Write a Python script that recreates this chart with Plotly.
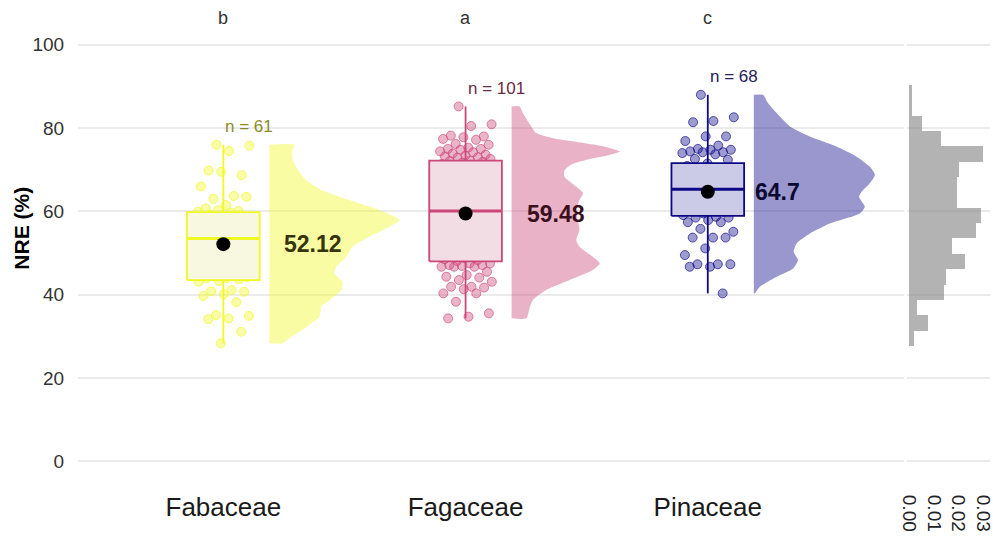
import numpy as np
import plotly.graph_objects as go

# ---------------- data ----------------
families = ["Fabaceae", "Fagaceae", "Pinaceae"]
group_letters = ["b", "a", "c"]

fabaceae_nre = [76.0, 75.8, 74.5, 69.8, 68.7, 69.5, 66.0, 63.7, 63.0, 63.5, 61.5, 60.7, 60.1, 60.3,
                59.9, 59.7, 59.2, 58.9, 58.6, 58.3, 58.0, 57.7, 57.4, 57.0, 56.5, 56.0, 55.5, 54.9, 54.3, 53.8, 53.5,
                52.2, 51.4, 50.6, 49.8, 49.0, 48.2, 47.5, 46.8, 46.1, 45.5, 44.9, 44.5, 44.2, 44.0,
                43.9, 43.7, 43.3, 43.1, 41.1, 40.8, 40.7, 40.1, 39.7, 38.2, 35.1, 34.9, 34.3, 34.1, 31.1, 28.3]

fagaceae_nre = [85.2, 80.9, 80.5, 78.2, 78.0, 77.8, 77.4, 77.2, 76.2, 76.0, 75.3, 75.0, 75.0, 74.8, 74.4,
                74.2, 73.9, 73.6, 73.4, 73.2, 73.0, 72.9, 72.6,
                72.2, 72.1, 71.9, 71.7, 71.4, 71.1, 70.7, 70.3, 69.8, 69.3, 68.7, 68.1, 67.5, 66.9, 66.3, 65.7,
                65.1, 64.6, 64.1, 63.6, 63.1, 62.6, 62.1, 61.6, 61.1, 60.6, 60.1, 59.5, 58.8, 58.2, 57.6, 57.0,
                56.5, 56.0, 55.6, 55.2, 54.8, 54.4, 54.0, 53.6, 53.2, 52.7, 52.3, 51.8, 51.3, 50.8, 50.3, 49.9,
                49.5, 49.1, 48.8, 48.5, 48.3, 48.1,
                47.5, 47.5, 47.1, 47.1, 46.9, 46.7, 46.7, 46.7, 45.5, 44.7, 44.3, 44.1, 43.5, 43.1, 41.9, 41.9,
                41.7, 41.3, 40.3, 40.3, 38.3, 35.5, 34.7, 34.3]

pinaceae_nre = [88.0, 82.6, 81.7, 81.4, 78.0, 78.0, 76.9, 75.8, 75.0, 74.8, 74.8, 74.4, 74.2, 74.2, 74.0, 73.7,
                72.6, 72.4,
                71.5, 70.9, 70.4, 69.9, 69.4, 69.2, 69.0, 68.8, 68.5, 68.1, 67.7, 67.3, 66.9, 66.5, 66.0, 65.5,
                65.1, 64.5, 63.9, 63.3, 62.7, 62.2, 61.8, 61.5, 61.2, 60.9, 60.6, 60.3, 59.9, 59.5, 59.1,
                58.7, 58.5, 58.5, 57.9, 57.4, 57.4, 55.8, 55.1, 53.7, 53.7, 53.7, 51.1, 49.5, 47.3, 47.3, 47.3,
                46.7, 46.7, 40.3]

mean_nre = [52.12, 59.48, 64.7]
q1_nre = [43.5, 48.0, 58.9]
median_nre = [53.5, 60.1, 65.3]
q3_nre = [59.8, 72.2, 71.6]

# half-violin density profiles (NRE level, density)
fab_dens_y = [28.3, 29.5, 31.5, 34.7, 37.1, 38.7, 41.1, 43.1, 45.1, 46.7, 49.1, 51.5, 53.9, 56.3, 57.9,
              60.3, 62.7, 65.1, 67.5, 70.7, 72.8, 74.8, 76.0]
fab_dens = [0.0045, 0.0069, 0.0114, 0.0173, 0.0180, 0.0208, 0.0249, 0.0253, 0.0225, 0.0232, 0.0267, 0.0287,
            0.0346, 0.0415, 0.0450, 0.0381, 0.0277, 0.0183, 0.0127, 0.0092, 0.0080, 0.0080, 0.0087]
fag_dens_y = [34.3, 36.7, 38.7, 41.1, 43.5, 45.9, 47.5, 49.1, 51.5, 53.1, 55.5, 57.9, 60.3, 62.7, 64.4,
              65.9, 68.3, 69.8, 71.2, 72.4, 73.4, 74.4, 75.6, 76.6, 77.6, 78.8, 80.4, 83.6, 85.2]
fag_dens = [0.0051, 0.0062, 0.0074, 0.0120, 0.0201, 0.0281, 0.0305, 0.0281, 0.0235, 0.0224, 0.0235, 0.0229,
            0.0224, 0.0235, 0.0247, 0.0224, 0.0183, 0.0183, 0.0205, 0.0260, 0.0330, 0.0374, 0.0320, 0.0230,
            0.0140, 0.0085, 0.0068, 0.0039, 0.0028]
pin_dens_y = [40.3, 41.9, 44.3, 46.3, 48.3, 50.3, 52.3, 54.7, 57.1, 59.5, 61.1, 63.5, 64.7, 66.8, 68.8,
              70.7, 73.2, 75.6, 78.0, 80.4, 83.6, 86.0, 88.0]
pin_dens = [0.0003, 0.0021, 0.0079, 0.0136, 0.0153, 0.0138, 0.0148, 0.0194, 0.0263, 0.0367, 0.0384, 0.0364,
            0.0373, 0.0402, 0.0419, 0.0402, 0.0355, 0.0286, 0.0194, 0.0125, 0.0079, 0.0049, 0.0032]

# marginal histogram of all observations (density per bin, bottom to top)
hist_bin_start = 27.67
hist_bin_width = 3.688
hist_density = [0.0020, 0.0075, 0.0033, 0.0143, 0.0151, 0.0225, 0.0175, 0.0271, 0.0291, 0.0196,
                0.0196, 0.0203, 0.0300, 0.0129, 0.0052, 0.0013, 0.0013]

hist_ticks = [0.0, 0.01, 0.02, 0.03]
y_ticks = [0, 20, 40, 60, 80, 100]

# ---------------- styling ----------------
FONT = "Liberation Sans, Arial, Helvetica, sans-serif"
W, H = 993, 547
ML, MR, MT, MB = 78, 2, 24, 65
PW, PH = W - ML - MR, H - MT - MB

base_rgb = [(240, 249, 33), (204, 71, 120), (13, 8, 135)]
box_fill = ["#f8f8e1", "#f2dde4", "#cccbe7"]
n_label_color = ["#8a8c25", "#6e2b47", "#24205e"]
mean_label_color = ["#35350c", "#3a0f20", "#0b0930"]
mean_label_nudge = [0.244, 0.244, 0.186]
VIOLIN_OFFSET = 0.19
VIOLIN_SCALE = 11.93
BOX_HALF = 0.15
JITTER = 0.11


def rgba(rgb, a):
    return "rgba(%d,%d,%d,%.2f)" % (rgb[0], rgb[1], rgb[2], a)


def jitter(n, spread):
    k = np.arange(n)
    return ((k * 0.6180339887 + 0.37) % 1.0 - 0.5) * 2 * spread


groups = [fabaceae_nre, fagaceae_nre, pinaceae_nre]
dens_profiles = [(fab_dens_y, fab_dens), (fag_dens_y, fag_dens), (pin_dens_y, pin_dens)]
positions = [1, 2, 3]

fig = go.Figure()

for i, (vals, pos) in enumerate(zip(groups, positions)):
    rgb = base_rgb[i]
    col = rgba(rgb, 1.0)
    vals = np.asarray(vals)
    lo, hi = float(vals.min()), float(vals.max())

    # half violin to the right of the box
    dy, dd = dens_profiles[i]
    base = pos + VIOLIN_OFFSET
    vx = [base] + [base + d * VIOLIN_SCALE for d in dd] + [base]
    vy = [dy[0]] + list(dy) + [dy[-1]]
    fig.add_trace(go.Scatter(
        x=vx, y=vy, mode="lines", fill="toself", fillcolor=rgba(rgb, 0.42),
        line=dict(width=0, shape="spline", smoothing=0.6), hoverinfo="skip", showlegend=False))

    # jittered raw observations
    fig.add_trace(go.Scatter(
        x=pos + jitter(len(vals), JITTER), y=vals, mode="markers",
        marker=dict(size=9, color=rgba(rgb, 0.4), line=dict(color=rgba(rgb, 0.65), width=1)),
        showlegend=False, hoverinfo="y"))

    # whiskers
    fig.add_trace(go.Scatter(
        x=[pos, pos, None, pos, pos], y=[lo, q1_nre[i], None, q3_nre[i], hi], mode="lines",
        line=dict(color=col, width=1.8), showlegend=False, hoverinfo="skip"))

    # box (drawn over the points)
    bx0, bx1 = pos - BOX_HALF, pos + BOX_HALF
    fig.add_trace(go.Scatter(
        x=[bx0, bx1, bx1, bx0, bx0], y=[q1_nre[i], q1_nre[i], q3_nre[i], q3_nre[i], q1_nre[i]],
        mode="lines", fill="toself", fillcolor=box_fill[i], line=dict(color=col, width=1.8),
        showlegend=False, hoverinfo="skip"))

    # median bar
    fig.add_trace(go.Scatter(
        x=[bx0, bx1], y=[median_nre[i]] * 2, mode="lines",
        line=dict(color=col, width=3), showlegend=False, hoverinfo="skip"))

    # group mean
    fig.add_trace(go.Scatter(
        x=[pos], y=[mean_nre[i]], mode="markers",
        marker=dict(size=14, color="black"), showlegend=False))

    fig.add_annotation(x=pos + mean_label_nudge[i], y=mean_nre[i], xref="x", yref="y",
                       text="<b>%s</b>" % mean_nre[i], showarrow=False, xanchor="left", yanchor="middle",
                       font=dict(family=FONT, size=23, color=mean_label_color[i]))

    fig.add_annotation(x=pos, y=hi + 4.3, xref="x", yref="y",
                       text="n = %d" % len(vals), showarrow=False, xanchor="left", yanchor="middle",
                       font=dict(family=FONT, size=17, color=n_label_color[i]))

    fig.add_annotation(x=pos, y=(MT + PH - 18) / PH, xref="x", yref="paper", text=group_letters[i],
                       showarrow=False, xanchor="center", yanchor="middle",
                       font=dict(family=FONT, size=18, color="#333333"))

# marginal histogram
centers = [hist_bin_start + hist_bin_width * (k + 0.5) for k in range(len(hist_density))]
fig.add_trace(go.Bar(
    x=hist_density, y=centers, orientation="h", width=hist_bin_width,
    marker=dict(color="rgba(128,128,128,0.6)", line=dict(width=0)),
    xaxis="x2", yaxis="y", showlegend=False))

fig.add_annotation(x=(20.7 - ML) / PW, y=(MT + PH - 228) / PH, xref="paper", yref="paper",
                   text="<b>NRE (%)</b>", textangle=-90, showarrow=False,
                   xanchor="center", yanchor="middle",
                   font=dict(family=FONT, size=21, color="black"))

fig.update_layout(
    width=W, height=H,
    margin=dict(l=ML, r=MR, t=MT, b=MB, autoexpand=False),
    paper_bgcolor="white", plot_bgcolor="white",
    font=dict(family=FONT),
    bargap=0,
    xaxis=dict(domain=[0, (904 - ML) / PW], range=[0.4, 3.81], automargin=False,
               tickmode="array", tickvals=positions, ticktext=families,
               showgrid=False, zeroline=False, showline=False,
               ticks="outside", ticklen=2, tickcolor="rgba(0,0,0,0)",
               tickfont=dict(family=FONT, size=26, color="#1a1a1a")),
    xaxis2=dict(domain=[(907 - ML) / PW, (990 - ML) / PW], range=[-0.00081, 0.0328], anchor="y",
                automargin=False, ticklabeloverflow="allow",
                tickmode="array", tickvals=hist_ticks, ticktext=["%.2f" % t for t in hist_ticks],
                tickangle=90, showgrid=False, zeroline=False, showline=False,
                ticks="outside", ticklen=8, tickcolor="rgba(0,0,0,0)",
                tickfont=dict(family=FONT, size=19, color="#222222")),
    yaxis=dict(range=[-5, 105], tickmode="array", tickvals=y_ticks, automargin=False,
               showgrid=True, gridcolor="#ebebeb", gridwidth=1.6, zeroline=False, showline=False,
               ticks="outside", ticklen=9, tickcolor="rgba(0,0,0,0)",
               tickfont=dict(family=FONT, size=19, color="#333333")),
)

fig.write_html("out.html")
